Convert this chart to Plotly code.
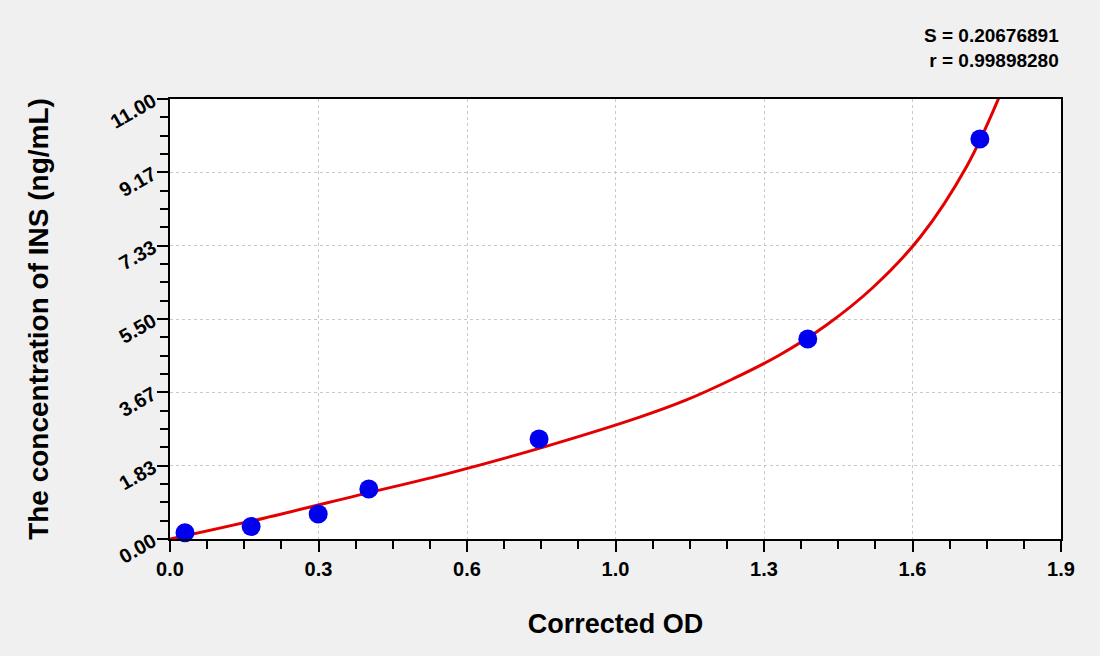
import numpy as np
import plotly.graph_objects as go

# Standard points (corrected OD vs concentration)
od = [0.032, 0.173, 0.316, 0.424, 0.787, 1.360, 1.727]
conc = [0.156, 0.3125, 0.625, 1.25, 2.5, 5.0, 10.0]

# Fitted curve
fit_od = [0.0, 0.2, 0.4, 0.6, 0.8, 1.0, 1.1, 1.2, 1.3, 1.4,
          1.5, 1.6, 1.7, 1.77]
fit_conc = [0.0, 0.52, 1.09, 1.66, 2.31, 3.04, 3.47, 4.0, 4.6, 5.35,
            6.30, 7.55, 9.34, 11.1]

x_ticktext = ["0.0", "0.3", "0.6", "1.0", "1.3", "1.6", "1.9"]
y_ticktext = ["0.00", "1.83", "3.67", "5.50", "7.33", "9.17", "11.00"]

stats = ["S = 0.20676891", "r = 0.99898280"]

x_max, y_max = 1.9, 11.0
x_tickvals = np.linspace(0, x_max, len(x_ticktext))
y_tickvals = np.linspace(0, y_max, len(y_ticktext))

font = "Liberation Sans, Arial, sans-serif"

fig = go.Figure()
fig.add_trace(go.Scatter(x=fit_od, y=fit_conc, mode="lines",
                         line=dict(color="#e50000", width=3, shape="spline", smoothing=1.0),
                         showlegend=False))
fig.add_trace(go.Scatter(x=od, y=conc, mode="markers",
                         marker=dict(color="#0000ee", size=19),
                         cliponaxis=False, showlegend=False))

axis_common = dict(
    showline=True, linecolor="black", linewidth=2, mirror=True,
    ticks="outside", ticklen=11, tickwidth=2, tickcolor="black",
    showgrid=True, gridcolor="#c8c8c8", gridwidth=1, griddash="dot",
    zeroline=False, tickmode="array",
)

fig.update_xaxes(
    range=[0, x_max], tickvals=x_tickvals, ticktext=x_ticktext,
    minor=dict(tickmode="linear", tick0=0, dtick=x_max / 24, ticks="outside",
               ticklen=8, tickwidth=2, tickcolor="black", showgrid=False),
    tickfont=dict(family=font, size=20, color="black", weight="bold"),
    title=dict(text="<b>Corrected OD</b>", standoff=35,
               font=dict(family=font, size=27, color="black")),
    **axis_common,
)
fig.update_yaxes(
    range=[0, y_max], tickvals=y_tickvals, ticktext=y_ticktext, tickangle=-30,
    minor=dict(tickmode="linear", tick0=0, dtick=y_max / 24, ticks="outside",
               ticklen=8, tickwidth=2, tickcolor="black", showgrid=False),
    tickfont=dict(family=font, size=20, color="black", weight="bold"),
    title=dict(text="<b>The concentration of INS (ng/mL)</b>", standoff=50,
               font=dict(family=font, size=28, color="black")),
    **axis_common,
)

fig.add_annotation(x=1, y=1, xref="paper", yref="paper", xanchor="right", yanchor="bottom",
                   yshift=26, align="right", showarrow=False,
                   text="<b>" + "<br>".join(stats) + "</b>",
                   font=dict(family=font, size=19, color="black"))

fig.update_layout(
    width=1100, height=656,
    paper_bgcolor="#f0f0f0", plot_bgcolor="white",
    margin=dict(l=170, r=39, t=99, b=117),
)

# drop the default page margin so the figure fills the window
fig.write_html("out.html", config={"displayModeBar": False},
               post_script="document.body.style.margin='0';")
